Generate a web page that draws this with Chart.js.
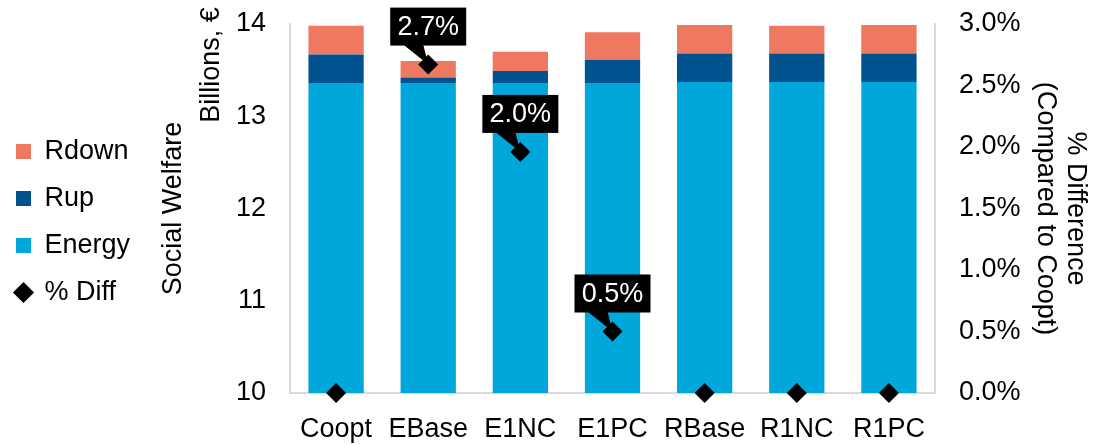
<!DOCTYPE html>
<html>
<head>
<meta charset="utf-8">
<script src="https://cdn.jsdelivr.net/npm/chart.js@4"></script>
<style>
  html, body { margin: 0; padding: 0; background: #fff; }
  #wrap { width: 1096px; height: 444px; }
</style>
</head>
<body>
<div id="wrap"><canvas id="chart" width="1096" height="444"></canvas></div>
<script>
// DATA
const categories = ['Coopt', 'EBase', 'E1NC', 'E1PC', 'RBase', 'R1NC', 'R1PC'];
const energy = [13.36, 13.36, 13.36, 13.36, 13.37, 13.37, 13.37];
const rup    = [0.31, 0.06, 0.13, 0.25, 0.31, 0.31, 0.31];
const rdown  = [0.31, 0.18, 0.21, 0.30, 0.31, 0.30, 0.31];
const pctDiff = [0.0, 2.67, 1.96, 0.50, 0.0, 0.0, 0.0];

const FONT = "'Liberation Sans', Arial, sans-serif";
const SIZE = 27;

// callout boxes above the % diff markers (drawn under the diamonds)
const calloutPlugin = {
  id: 'callouts',
  beforeDatasetDraw(chart, args) {
    if (args.index !== 3) return;
    const ctx = chart.ctx;
    const meta = chart.getDatasetMeta(3);
    ctx.save();
    ctx.font = SIZE + 'px ' + FONT;
    ctx.textAlign = 'center';
    ctx.textBaseline = 'middle';
    meta.data.forEach((pt, i) => {
      const v = pctDiff[i];
      if (v <= 0) return;
      const w = 76, h = 38;
      const top = pt.y - 57, left = pt.x - w / 2, bottom = top + h;
      ctx.fillStyle = '#000';
      ctx.fillRect(left, top, w, h);
      ctx.beginPath();
      ctx.moveTo(pt.x - 25, bottom - 1);
      ctx.lineTo(pt.x - 5, bottom - 1);
      ctx.lineTo(pt.x, pt.y);
      ctx.closePath();
      ctx.fill();
      ctx.fillStyle = '#fff';
      ctx.fillText(v.toFixed(1) + '%', pt.x, top + h / 2 + 1);
    });
    ctx.restore();
  },
  afterDraw(chart) {
    // second line of the left axis title
    const ctx = chart.ctx;
    ctx.save();
    ctx.font = SIZE + 'px ' + FONT;
    ctx.fillStyle = '#000';
    ctx.textAlign = 'center';
    ctx.textBaseline = 'middle';
    ctx.translate(212, 65);
    ctx.rotate(-Math.PI / 2);
    ctx.fillText('Billions, €', 0, 0);
    ctx.restore();
  }
};

const legendOrder = [2, 1, 0, 3];

new Chart(document.getElementById('chart'), {
  type: 'bar',
  data: {
    labels: categories,
    datasets: [
      { label: 'Energy', data: energy, backgroundColor: '#00A7DB', pointStyle: 'rect', yAxisID: 'y', order: 2 },
      { label: 'Rup', data: rup, backgroundColor: '#00538E', pointStyle: 'rect', yAxisID: 'y', order: 2 },
      { label: 'Rdown', data: rdown, backgroundColor: '#EE7860', pointStyle: 'rect', yAxisID: 'y', order: 2 },
      {
        type: 'line', label: '% Diff', data: pctDiff, yAxisID: 'y1', showLine: false,
        pointStyle: 'rectRot', pointRadius: 10, pointHoverRadius: 10,
        backgroundColor: '#000', borderColor: '#000', borderWidth: 0, order: 1, clip: false
      }
    ]
  },
  options: {
    responsive: false,
    animation: false,
    events: [],
    layout: { padding: { top: 0, left: -4, right: 0, bottom: 0 } },
    datasets: { bar: { categoryPercentage: 1, barPercentage: 0.6 } },
    plugins: {
      legend: {
        position: 'left',
        labels: {
          usePointStyle: true,
          boxWidth: 15, boxHeight: 15,
          padding: 20,
          color: '#000',
          font: { family: FONT, size: SIZE },
          sort: (a, b) => legendOrder.indexOf(a.datasetIndex) - legendOrder.indexOf(b.datasetIndex)
        }
      },
      tooltip: { enabled: false }
    },
    scales: {
      x: {
        stacked: true,
        grid: { display: false, drawTicks: false },
        border: { display: true, color: '#d9d9d9', width: 2 },
        ticks: { color: '#000', padding: 20, font: { family: FONT, size: SIZE } },
        afterFit: s => { s.height = 51; }
      },
      y: {
        stacked: true,
        position: 'left',
        min: 10, max: 14,
        grid: { display: false, drawTicks: false },
        border: { display: true, color: '#d9d9d9', width: 2 },
        ticks: { stepSize: 1, color: '#000', padding: 24, font: { family: FONT, size: SIZE } },
        title: { display: true, text: 'Social Welfare', color: '#000', padding: { top: 17, bottom: 0 }, font: { family: FONT, size: SIZE } },
        afterFit: s => {
          s.width = 290 - (s.chart.legend ? s.chart.legend.width : 0) + 4;
          s.paddingTop = 24; s.paddingBottom = 0;
        }
      },
      y1: {
        position: 'right',
        min: 0, max: 3,
        grid: { display: false, drawTicks: false },
        border: { display: true, color: '#d9d9d9', width: 2 },
        ticks: { stepSize: 0.5, color: '#000', padding: 24, font: { family: FONT, size: SIZE }, callback: v => v.toFixed(1) + '%' },
        title: { display: true, text: ['% Difference', '(Compared to Coopt)'], color: '#000', padding: { top: 5, bottom: 0 }, font: { family: FONT, size: SIZE, lineHeight: 1.12 } },
        afterFit: s => {
          s.width = 161;
          s.paddingTop = 24; s.paddingBottom = 0;
        }
      }
    }
  },
  plugins: [calloutPlugin]
});
</script>
</body>
</html>
